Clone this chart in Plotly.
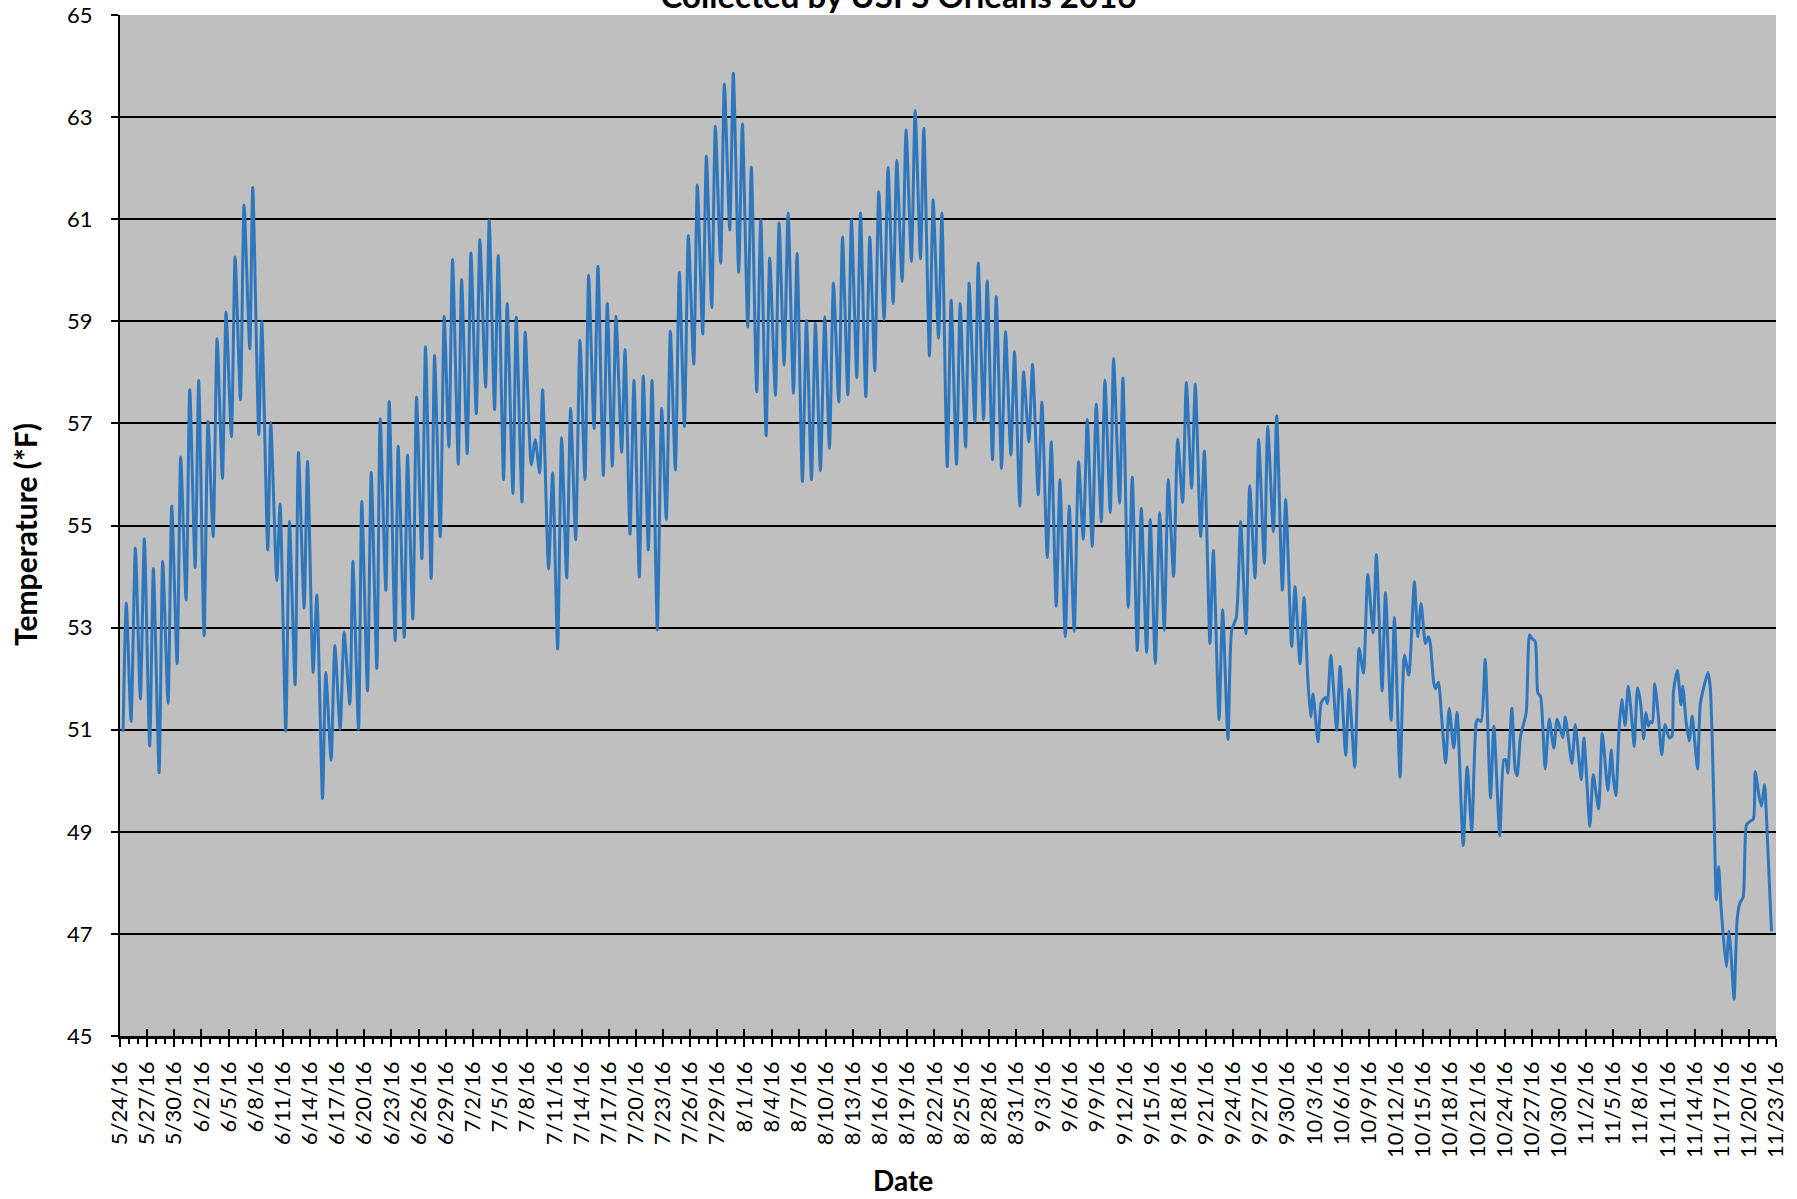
import pandas as pd
import plotly.graph_objects as go

start_date = "2016-05-24"
end_date = "2016-11-23"

# Fractional days since 5/24/16 00:00 and water temperature (deg F)
day_offsets = [
    0.34, 0.70, 1.22, 1.70, 2.25, 2.69, 3.28, 3.69, 4.32, 4.72, 5.31, 5.72, 6.31, 6.71, 7.30, 7.71,
    8.30, 8.70, 9.29, 9.73, 10.29, 10.73, 11.32, 11.72, 12.31, 12.72, 13.31, 13.71, 14.34, 14.67,
    15.34, 15.67, 16.33, 16.66, 17.33, 17.69,
    18.32, 18.73, 19.35, 19.72, 20.35, 20.72, 21.34, 21.75, 22.38, 22.74, 23.33, 23.74, 24.33, 24.77,
    25.40, 25.73, 26.36, 26.72, 27.35, 27.76, 28.38, 28.75, 29.38, 29.75, 30.41, 30.74, 31.41, 31.77,
    32.36, 32.77, 33.36, 33.76, 34.39, 34.76, 35.39, 35.83,
    36.34, 36.75, 37.38, 37.75, 38.37, 38.78, 39.37, 39.77, 40.40, 40.80, 41.39, 41.80, 42.39, 42.79,
    43.42, 43.79, 44.42, 44.78, 45.45, 45.89, 46.37, 46.70, 47.36, 47.81, 48.36, 48.80, 49.36, 49.80,
    50.35, 50.83, 51.38, 51.79, 52.38, 52.82, 53.41, 53.85, 54.40,
    54.81, 55.44, 55.81, 56.36, 56.80, 57.39, 57.83, 58.38, 58.79, 59.38, 59.86, 60.37, 60.82, 61.37,
    61.81, 62.37, 62.81, 63.40, 63.80, 64.39, 64.80, 65.39, 65.79, 66.38, 66.79, 67.38, 67.78, 68.37,
    68.78, 69.37, 69.77, 70.36, 70.81, 71.40, 71.80, 72.43, 72.83,
    73.39, 73.83, 74.42, 74.82, 75.41, 75.86, 76.41, 76.85, 77.40, 77.88, 78.40, 78.84, 79.43, 79.84,
    80.43, 80.83, 81.42, 81.83, 82.42, 82.86, 83.41, 83.85, 84.44, 84.88, 85.44, 85.84, 86.43, 86.87,
    87.46, 87.87, 88.46, 88.83, 89.45, 89.86, 90.45, 90.82,
    91.41, 91.85, 92.44, 92.85, 93.44, 93.84, 94.47, 94.84, 95.43, 95.83, 96.42, 96.83, 97.42, 97.86,
    98.45, 98.85, 99.44, 99.85, 100.44, 100.84, 101.47, 101.88, 102.47, 102.91, 103.46, 103.87,
    104.46, 104.90, 105.45, 105.93, 106.45, 106.89, 107.44, 107.88, 108.44, 108.84, 109.43, 109.80,
    110.46, 110.83, 111.42, 111.86, 112.42, 112.86, 113.45, 113.85, 114.41, 114.89, 115.40, 115.84,
    116.43, 116.88, 117.43, 117.84, 118.42, 118.83, 119.42, 119.83, 120.45, 120.82, 121.45, 121.85,
    122.44, 122.85, 123.36, 123.84, 124.43, 124.84, 125.43, 125.83, 126.46, 126.83, 127.46, 127.82,
    128.45, 128.82, 129.48, 129.85, 130.40, 130.85, 131.25, 131.58, 131.84, 132.39, 132.76, 133.24,
    133.43, 133.80, 134.46, 134.83, 135.45, 135.82, 136.45, 136.93, 137.41, 137.89, 138.48, 138.84,
    139.47, 139.84, 140.47, 140.83, 141.46, 141.94, 142.42, 143.04, 143.41, 143.78, 144.26, 144.59,
    144.81, 145.18, 145.40, 145.70, 146.06, 146.50,
    146.88, 147.39, 147.76, 148.43, 148.87, 149.38, 149.86, 150.05, 150.42, 150.86, 151.45, 151.82,
    152.48, 152.92, 153.14, 153.36, 153.81, 154.18, 154.40, 154.77, 155.39, 155.76, 156.02, 156.39,
    156.68, 156.98, 157.49, 157.94, 158.45, 158.82, 159.45, 159.71, 160.45, 160.82, 161.48, 161.77,
    162.43, 162.80, 163.39, 163.80, 164.42, 164.80, 165.00,
    165.30, 165.67, 165.96, 166.33, 166.67, 167.07, 167.33, 167.70, 168.04, 168.37, 168.63, 168.90,
    169.10, 169.33, 169.60, 170.00, 170.37, 170.74, 171.20, 171.50, 171.67, 172.10, 172.50, 172.70,
    173.07, 173.40, 173.74, 173.96, 174.33, 174.63, 175.00, 175.48, 175.74, 175.93, 176.19, 176.40,
    176.67, 176.90, 177.50, 177.80, 178.07, 178.37, 178.70, 179.00, 179.37, 179.74, 180.10, 180.50,
    180.70, 181.10, 181.40, 181.74, 181.96, 182.50,
]

temps = [
    50.96, 53.48, 51.16, 54.56, 51.60, 54.74, 50.68, 54.16, 50.16, 54.30, 51.52, 55.38, 52.30, 56.34,
    53.54, 57.66, 54.18, 57.84, 52.84, 57.04, 54.78, 58.66, 55.92, 59.18, 56.74, 60.26, 57.46, 61.28,
    58.46, 61.62, 56.78, 59.00, 54.52, 57.02, 53.92, 55.42,
    50.97, 55.08, 51.88, 56.43, 53.38, 56.26, 52.12, 53.64, 49.65, 52.12, 50.40, 52.65, 51.01, 52.91,
    51.50, 54.30, 51.01, 55.47, 51.76, 56.04, 52.20, 57.09, 53.73, 57.43, 52.74, 56.55, 52.81, 56.38,
    53.17, 57.51, 54.35, 58.50, 53.96, 58.33, 54.78, 59.10,
    56.54, 60.21, 56.20, 59.82, 56.41, 60.34, 57.19, 60.60, 57.71, 60.98, 57.27, 60.29, 55.90, 59.35,
    55.63, 59.08, 55.46, 58.79, 56.19, 56.68, 56.03, 57.66, 54.15, 56.03, 52.58, 56.72, 53.97, 57.29,
    54.72, 58.63, 55.90, 59.90, 56.90, 60.08, 55.98, 59.35, 56.16,
    59.10, 56.43, 58.45, 54.83, 57.84, 53.99, 57.93, 54.52, 57.84, 52.96, 57.29, 55.12, 58.81, 56.09,
    59.96, 56.94, 60.68, 58.16, 61.67, 58.75, 62.24, 59.27, 62.82, 60.14, 63.65, 60.79, 63.86, 59.96,
    62.87, 58.89, 62.02, 57.62, 60.99, 56.76, 60.24, 57.55, 60.93,
    58.14, 61.12, 57.59, 60.33, 55.86, 59.01, 55.90, 58.96, 56.07, 59.09, 56.51, 59.75, 57.42, 60.65,
    57.56, 60.99, 57.90, 61.12, 57.52, 60.65, 58.03, 61.54, 59.03, 62.02, 59.35, 62.15, 59.78, 62.75,
    60.17, 63.13, 60.22, 62.78, 58.32, 61.38, 58.67, 61.12,
    56.15, 59.41, 56.20, 59.35, 56.54, 59.75, 57.03, 60.14, 57.08, 59.79, 56.29, 59.48, 56.12, 58.80,
    56.38, 58.41, 55.38, 58.01, 56.64, 58.16, 55.60, 57.42, 54.37, 56.64, 53.42, 55.90,
    52.82, 55.38, 52.93, 56.25, 54.73, 57.08, 54.59, 57.38, 55.07, 57.85, 55.25, 58.27,
    55.44, 57.89, 53.40, 55.95, 52.55, 55.34, 52.51, 55.12, 52.30, 55.25, 52.95, 55.90,
    54.00, 56.69, 55.45, 57.80, 55.73, 57.77, 54.78, 56.46, 52.69, 54.51, 51.20, 53.35,
    50.81, 52.95, 53.20, 55.08, 52.88, 55.78, 53.97, 56.69, 54.26, 56.94, 54.88, 57.15,
    53.73, 55.51, 52.63, 53.80, 52.29, 53.59, 52.03, 51.25, 51.70, 50.76, 51.54, 51.63,
    51.51, 52.46, 50.99, 52.24, 50.50, 51.79, 50.27, 52.59, 52.11, 54.04, 52.90, 54.43,
    51.76, 53.69, 51.18, 53.20, 50.07, 52.46, 52.07, 53.90, 52.82, 53.47, 52.69, 52.82,
    52.67, 51.92, 51.80, 51.93, 51.22, 50.35,
    51.42, 50.64, 51.34, 48.73, 50.27, 49.03, 51.13, 51.20, 51.16, 52.38, 49.66, 51.07,
    48.92, 50.41, 50.41, 50.15, 51.42, 50.22, 50.10, 50.87, 51.33, 52.86, 52.79, 52.73,
    51.72, 51.65, 50.23, 51.21, 50.64, 51.21, 50.84, 51.25, 50.34, 51.10, 50.02, 50.84,
    49.11, 50.12, 49.45, 50.93, 49.81, 50.60, 50.10,
    49.71, 51.05, 51.59, 51.08, 51.85, 51.20, 50.67, 51.82, 51.52, 50.82, 51.33, 51.07,
    51.16, 51.14, 51.90, 51.27, 50.51, 51.10, 50.84, 50.87, 51.75, 52.16, 51.49, 51.85,
    51.14, 50.78, 51.27, 50.90, 50.23, 51.49, 51.82, 52.12, 51.82, 50.93, 49.10, 47.67,
    48.32, 47.60, 46.36, 47.05, 46.50, 45.72, 47.27, 47.60, 47.72, 49.14, 49.20, 49.25,
    50.18, 49.73, 49.50, 49.92, 49.24, 47.05,
]

title_text = "Collected by USFS Orleans 2016"
x_title = "Date"
y_title = "Temperature (*F)"

times = pd.Timestamp(start_date) + pd.to_timedelta(day_offsets, unit="D")

FONT = "Lato"
DAY_MS = 86400000

fig = go.Figure()
fig.add_trace(go.Scatter(
    x=times, y=temps, mode="lines",
    line=dict(color="#2F77BD", width=3, shape="spline", smoothing=0.6),
    showlegend=False, hoverinfo="x+y",
))
# helper trace so the overlay axis (inner half of the crossing ticks) gets drawn
fig.add_trace(go.Scatter(x=[times[0]], y=[None], xaxis="x2", mode="lines",
                         showlegend=False, hoverinfo="skip"))

tick_common = dict(tick0=start_date, dtick=3 * DAY_MS, range=[start_date, end_date], type="date")

fig.update_layout(
    width=1797, height=1199,
    margin=dict(l=120, r=21, t=15, b=163, autoexpand=False),
    paper_bgcolor="white", plot_bgcolor="#BFBFBF",
    font=dict(family=FONT, color="black", size=22),
    title=dict(text="<b>" + title_text + "</b>", x=0.5, xref="container", xanchor="center",
               y=1 - 8 / 1199, yref="container", yanchor="bottom", automargin=False,
               font=dict(family=FONT, size=33, color="black")),
    xaxis=dict(
        **tick_common,
        automargin=False,
        tickformat="%-m/%-d/%y", tickangle=-90,
        tickfont=dict(family=FONT, size=22, color="black"),
        showgrid=False, zeroline=False,
        showline=True, linecolor="black", linewidth=2.5,
        ticks="outside", ticklen=8, tickwidth=2, tickcolor="black",
        minor=dict(ticks="outside", ticklen=5, tickwidth=1.5, tickcolor="black",
                   dtick=DAY_MS, tick0=start_date, showgrid=False),
        ticklabelstandoff=6,
    ),
    xaxis2=dict(
        **tick_common,
        automargin=False,
        overlaying="x", matches="x", anchor="y", side="bottom",
        showticklabels=False, showgrid=False, zeroline=False, showline=False,
        ticks="inside", ticklen=7, tickwidth=2, tickcolor="black",
    ),
    yaxis=dict(
        range=[45, 65], tick0=45, dtick=2,
        automargin=False,
        tickfont=dict(family=FONT, size=22, color="black"),
        showgrid=True, gridcolor="black", gridwidth=1.6, zeroline=False,
        showline=True, linecolor="black", linewidth=2,
        ticks="outside", ticklen=7, tickwidth=1.6, tickcolor="black",
        ticklabelstandoff=14,
    ),
    annotations=[
        dict(text="<b>" + x_title + "</b>", xref="paper", yref="paper", x=0.4728, y=-0.141,
             xanchor="center", yanchor="middle", showarrow=False,
             font=dict(family=FONT, size=28, color="black")),
        dict(text="<b>" + y_title + "</b>", xref="paper", yref="paper", x=-0.0574, y=0.4917,
             xanchor="center", yanchor="middle", showarrow=False, textangle=-90,
             font=dict(family=FONT, size=30, color="black")),
    ],
)

fig.write_html("out.html", config={"displayModeBar": False},
               post_script="document.body.style.margin='0';")
